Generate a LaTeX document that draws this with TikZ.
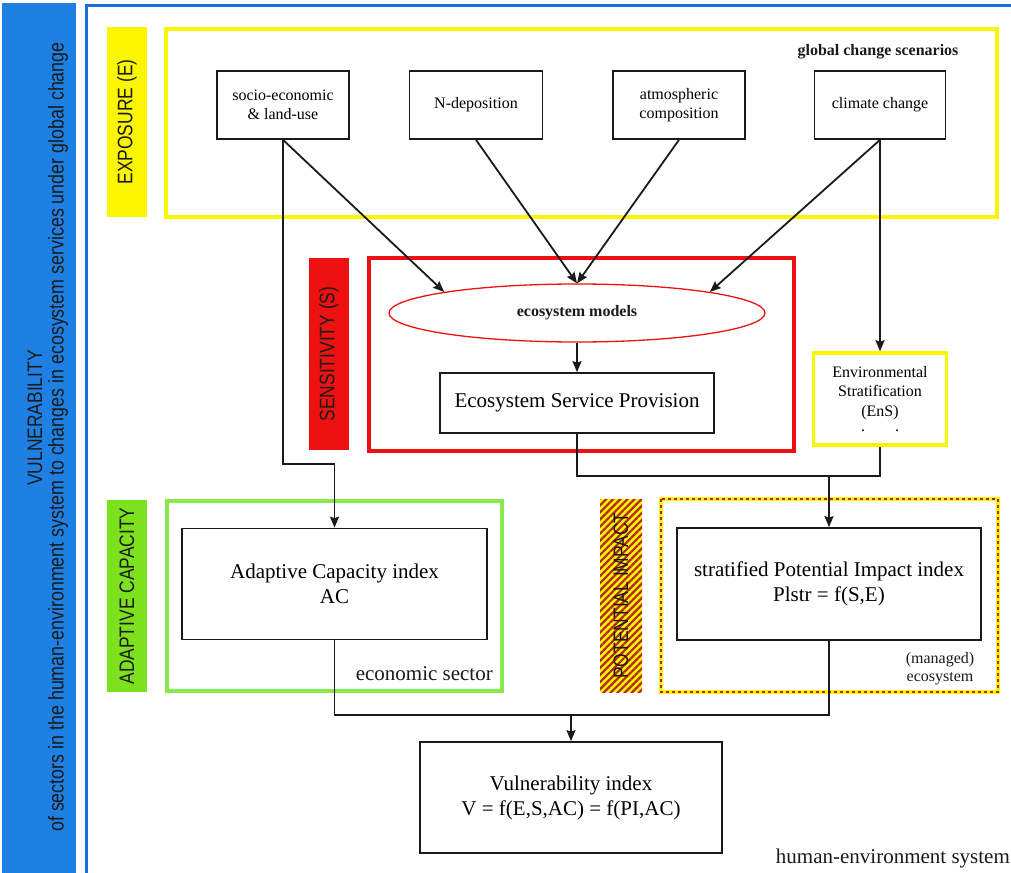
\documentclass[tikz,border=0pt]{standalone}
\usepackage{fontspec}
\setmainfont{Liberation Serif}
\newfontfamily\cnsans[FakeStretch=0.83]{Liberation Sans}
\usetikzlibrary{arrows.meta,shapes.geometric,patterns.meta}
\definecolor{vblue}{HTML}{1F80E4}
\definecolor{fblue}{HTML}{1870DC}
\definecolor{yel}{HTML}{FAF500}
\definecolor{grn}{HTML}{7DE21E}
\definecolor{grnf}{HTML}{88E84C}
\definecolor{rd}{HTML}{EE1111}
\definecolor{stripe}{HTML}{B8281A}
\definecolor{ink}{HTML}{1A1A1A}
\begin{document}
\begin{tikzpicture}[x=1pt,y=-1pt,
  box/.style={draw=ink, line width=1.7pt, fill=white, align=center, inner sep=1pt},
  arr/.style={draw=ink, line width=1.8pt, -{Stealth[length=11pt,width=9pt,inset=1.5pt]}},
  ln/.style={draw=ink, line width=1.8pt},
  fs/.style={font=\fontsize{16}{19}\selectfont},
  fb/.style={font=\fontsize{21}{25}\selectfont},
  side/.style={rotate=90, minimum width=190pt, minimum height=40pt, inner sep=0pt, text=ink, font=\cnsans\fontsize{21}{24}\selectfont},
  plain/.style={text=ink, inner sep=0pt, align=center},
]
\useasboundingbox (0,0) rectangle (1011,872);
\clip (0,0) rectangle (1011,872);
% left bar and frame
\fill[vblue] (2,3) rectangle (76,880);
\draw[fblue, line width=3pt] (86.5,5.5) rectangle (1040,900);
\node[plain, rotate=90, font=\cnsans\fontsize{21}{24}\selectfont] (vt) at (35,418) {VULNERABILITY};
\node[plain, rotate=90, font=\cnsans\fontsize{21.5}{24}\selectfont] (vs) at (58,437) {of sectors in the human-environment system to changes in ecosystem services under global change};
% frames
\draw[yel, line width=4.5pt] (166,29) rectangle (997,217);
\draw[rd, line width=4pt] (369,258) rectangle (794,451);
\draw[grnf, line width=3.5pt] (167,501) rectangle (502,691);
\draw[yel, line width=4.5pt] (661,499) rectangle (998,692);
\draw[stripe, line width=2.5pt, dash pattern=on 3pt off 3pt] (661,499) rectangle (998,692);
% side labels
\node[side, fill=yel] (le) at (127,122) {EXPOSURE (E)};
\node[side, fill=rd, minimum width=192pt] (ls) at (329,354) {SENSITIVITY (S)};
\node[side, fill=grn, minimum width=192pt] (la) at (127,596) {ADAPTIVE CAPACITY};
\fill[yel] (600,499) rectangle (642,692);
\fill[pattern={Lines[angle=45,distance=5pt,line width=2.2pt]}, pattern color=stripe] (600,499) rectangle (642,692);
\node[side, minimum width=193pt, minimum height=42pt] (lp) at (621,595.5) {POTENTIAL IMPACT};
% exposure boxes
\node[plain, font=\bfseries\fontsize{16}{19}\selectfont] (gcs) at (878,52) {global change scenarios};
\node[box, fs, minimum width=132pt, minimum height=68pt] (se) at (283,105) {socio-economic\\\& land-use};
\node[box, fs, minimum width=133pt, minimum height=68pt] (nd) at (476,105) {N-deposition};
\node[box, fs, minimum width=132pt, minimum height=68pt] (atm) at (679,105) {atmospheric\\composition};
\node[box, fs, minimum width=131pt, minimum height=68pt] (cc) at (880,105) {climate change};
% sensitivity
\node[ellipse, draw=rd, line width=1.3pt, fill=white, minimum width=376pt, minimum height=58pt, inner sep=0pt, text=ink, font=\bfseries\fontsize{16}{19}\selectfont] (em) at (577,313) {ecosystem models};
\node[box, fb, minimum width=274pt, minimum height=60pt] (esp) at (577,403) {Ecosystem Service Provision};
\node[box, draw=yel, line width=3.5pt, font=\fontsize{16}{19.5}\selectfont, minimum width=133pt, minimum height=92pt] (ens) at (880,399) {Environmental\\Stratification\\(EnS)\\[-4pt].\hspace{30pt}.};
% indices
\node[box, fb, minimum width=305pt, minimum height=111pt] (ac) at (334.5,584) {Adaptive Capacity index\\AC};
\node[box, fb, minimum width=304pt, minimum height=112pt] (pi) at (829,584) {stratified Potential Impact index\\Plstr = f(S,E)};
\node[box, fb, minimum width=302pt, minimum height=111pt] (v) at (571,797.5) {Vulnerability index\\V = f(E,S,AC) = f(PI,AC)};
\node[plain, fb, anchor=east] (es) at (493,674) {economic sector};
\node[plain, font=\fontsize{16}{18}\selectfont] (me) at (940,669) {(managed)\\ecosystem};
\node[plain, fb, anchor=east] (hes) at (1010,858) {human-environment system};
% connectors
\draw[arr] (se.south) -- (em.171);
\draw[arr] (nd.south) -- (em.north);
\draw[arr] (atm.south) -- (em.north);
\draw[arr] (cc.south) -- (em.9);
\draw[arr] (cc.south) -- (ens.north);
\draw[arr] (em.south) -- (esp.north);
\coordinate (j1) at (829,476);
\draw[ln] (esp.south) |- (j1);
\draw[ln] (ens.south) |- (j1);
\draw[arr] (j1) -- (pi.north);
\coordinate (j2) at (334.5,464);
\draw[arr] (se.south) |- (j2) -- (ac.north);
\coordinate (j3) at (571,715);
\draw[ln] (ac.south) |- (j3);
\draw[ln] (pi.south) |- (j3);
\draw[arr] (j3) -- (v.north);
\end{tikzpicture}
\end{document}
